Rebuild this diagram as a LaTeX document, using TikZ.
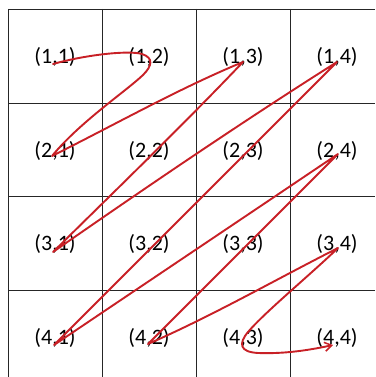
\documentclass[tikz,border=0pt]{standalone}
\usepackage{fontspec}
\setmainfont{Carlito}
\usetikzlibrary{arrows.meta}
\definecolor{curvered}{RGB}{200,32,38}
\begin{document}
\begin{tikzpicture}[x=1pt,y=-1pt,
  gridline/.style={draw=black!85,line width=0.8pt},
  celllabel/.style={font=\fontsize{22}{25}\selectfont,text=black,inner sep=0pt},
  pathline/.style={draw=curvered,line width=1.9pt,line join=round,line cap=round}]
\useasboundingbox (0,0) rectangle (375,377);
\fill[white] (0,0) rectangle (375,377);
% grid
\foreach \x in {8,102,196,290} \draw[gridline] (\x,9) -- (\x,377);
\foreach \y in {9,103,196,290} \draw[gridline] (8,\y) -- (375,\y);
% labels
\foreach \r/\yy in {1/57,2/151,3/244,4/338}
  \foreach \c/\xx in {1/55,2/149,3/243,4/337}
    \node[celllabel] (l\r\c) at (\xx,\yy) {(\r,\c)};
% route coordinates
\coordinate (p0) at (53,64);
\coordinate (p1) at (52,156);
\coordinate (p2) at (243,62);
\coordinate (p3) at (53,252);
\coordinate (p4) at (337,62);
\coordinate (p5) at (54,345);
\coordinate (p6) at (338,154);
\coordinate (p7) at (148,344);
\coordinate (p8) at (338,248);
\coordinate (p9) at (333,345);
\draw[pathline,-{Straight Barb[length=7pt,width=9pt,line width=1.5pt]}]
  (p0) .. controls (85,55) and (128,50) .. (142,54)
  .. controls (154,58) and (152,66) .. (143,75)
  .. controls (125,92) and (80,122) .. (p1)
  .. controls (116,124) and (180,88) .. (p2)
  .. controls (184,124) and (118,188) .. (p3)
  .. controls (148,186) and (242,122) .. (p4)
  .. controls (243,156) and (148,251) .. (p5)
  .. controls (149,281) and (243,218) .. (p6)
  .. controls (275,217) and (211,281) .. (p7)
  .. controls (212,316) and (275,280) .. (p8)
  .. controls (310,275) and (265,312) .. (248,332)
  .. controls (238,344) and (240,352) .. (258,353)
  .. controls (285,354) and (310,350) .. (p9);
\end{tikzpicture}
\end{document}
